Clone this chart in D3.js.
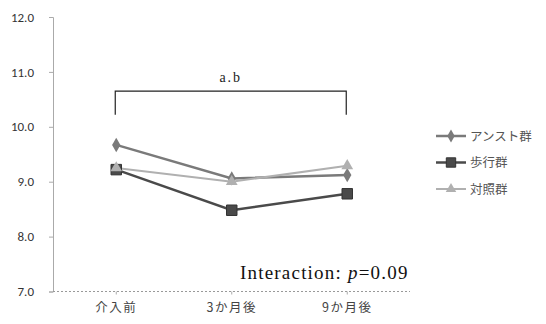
<!DOCTYPE html>
<html><head><meta charset="utf-8">
<script src="https://cdn.jsdelivr.net/npm/d3@7"></script>
<style>body{margin:0;background:#fff}svg{display:block}</style>
</head><body>
<svg id="c" width="546" height="324"></svg>
<script>
const categories = ["介入前", "3か月後", "9か月後"];
const seriesNames = ["アンスト群", "歩行群", "対照群"];
const anstValues = [9.67, 9.06, 9.12];
const walkValues = [9.22, 8.48, 8.78];
const controlValues = [9.25, 9.0, 9.29];
const yTicks = [7.0, 8.0, 9.0, 10.0, 11.0, 12.0];
const bracketLabel = "a.b";
const noteLabel = "Interaction: ";

const series = [
  {name: seriesNames[0], values: anstValues, color: "#7a7a7a", shape: d3.symbolDiamond, size: 60, width: 2.5},
  {name: seriesNames[1], values: walkValues, color: "#4a4a4a", shape: d3.symbolSquare, size: 110, width: 2.5},
  {name: seriesNames[2], values: controlValues, color: "#b0b0b0", shape: d3.symbolTriangle, size: 60, width: 2}
];

const svg = d3.select("#c");
const x = d3.scaleBand().domain(categories).range([58.5, 405]);
const y = d3.scaleLinear().domain([7, 12]).range([291.5, 17]);
const cx = d => x(d) + x.bandwidth() / 2;

// y axis
const ya = svg.append("g").attr("transform", "translate(53,0)")
  .call(d3.axisLeft(y).tickValues(yTicks).tickFormat(d3.format(".1f")).tickSize(4).tickPadding(6));
ya.select(".domain").attr("stroke", "#aaa");
ya.selectAll(".tick line").attr("stroke", "#aaa");
ya.selectAll(".tick text").attr("font-family", "Calibri, 'Liberation Sans', Arial, sans-serif")
  .attr("font-size", 13).attr("fill", "#333").attr("dx", -9);

// x axis
const xa = svg.append("g").attr("transform", `translate(0,${y(7)})`)
  .call(d3.axisBottom(x).tickSize(3).tickPadding(9));
xa.select(".domain").remove();
xa.append("line").attr("x1", 53).attr("x2", 410).attr("stroke", "#999").attr("stroke-dasharray", "2,2");
xa.selectAll(".tick line").attr("stroke", "#aaa");
xa.selectAll(".tick text").attr("font-family", "'Noto Sans CJK JP', sans-serif")
  .attr("font-size", 12.5).attr("fill", "#444").attr("letter-spacing", 1.5);

// lines
const line = d3.line().x((d, i) => cx(categories[i])).y(d => y(d));
series.forEach(s => {
  svg.append("path").datum(s.values).attr("d", line)
    .attr("fill", "none").attr("stroke", s.color).attr("stroke-width", s.width);
});
series.forEach(s => {
  svg.selectAll(null).data(s.values).enter().append("path")
    .attr("d", d3.symbol().type(s.shape).size(s.size))
    .attr("transform", (d, i) => `translate(${cx(categories[i])},${y(d)})`)
    .attr("fill", s.color).attr("stroke", s.shape === d3.symbolSquare ? "#333" : "none").attr("stroke-width", 1);
});

// bracket
const bx1 = cx(categories[0]) - 1, bx2 = cx(categories[2]) - 1;
const by = y(10.65), byb = y(10.22);
svg.append("path").attr("d", `M${bx1},${byb}V${by}H${bx2}V${byb}`)
  .attr("fill", "none").attr("stroke", "#222").attr("stroke-width", 1.2);
svg.append("text").attr("x", (bx1 + bx2) / 2).attr("y", by - 9).attr("text-anchor", "middle")
  .attr("font-family", "'Liberation Serif', serif").attr("font-size", 14).attr("fill", "#222")
  .attr("letter-spacing", 2).text(bracketLabel);

// interaction note
const nt = svg.append("text").attr("x", 240).attr("y", 279)
  .attr("font-family", "'Liberation Serif', serif").attr("font-size", 19).attr("fill", "#111")
  .attr("letter-spacing", 1.2);
nt.append("tspan").text(noteLabel);
nt.append("tspan").attr("font-style", "italic").text("p");
nt.append("tspan").text("=0.09");

// legend
const lg = svg.append("g");
series.forEach((s, i) => {
  const ly = 136 + i * 26.5;
  lg.append("line").attr("x1", 436).attr("x2", 466).attr("y1", ly).attr("y2", ly)
    .attr("stroke", s.color).attr("stroke-width", s.width);
  lg.append("path").attr("d", d3.symbol().type(s.shape).size(s.size * 0.8))
    .attr("transform", `translate(451,${ly})`).attr("fill", s.color)
    .attr("stroke", s.shape === d3.symbolSquare ? "#333" : "none");
  lg.append("text").attr("x", 470).attr("y", ly + 4.5)
    .attr("font-family", "'Noto Sans CJK JP', sans-serif").attr("font-size", 12.5).attr("fill", "#555")
    .text(s.name);
});
</script>
</body></html>
